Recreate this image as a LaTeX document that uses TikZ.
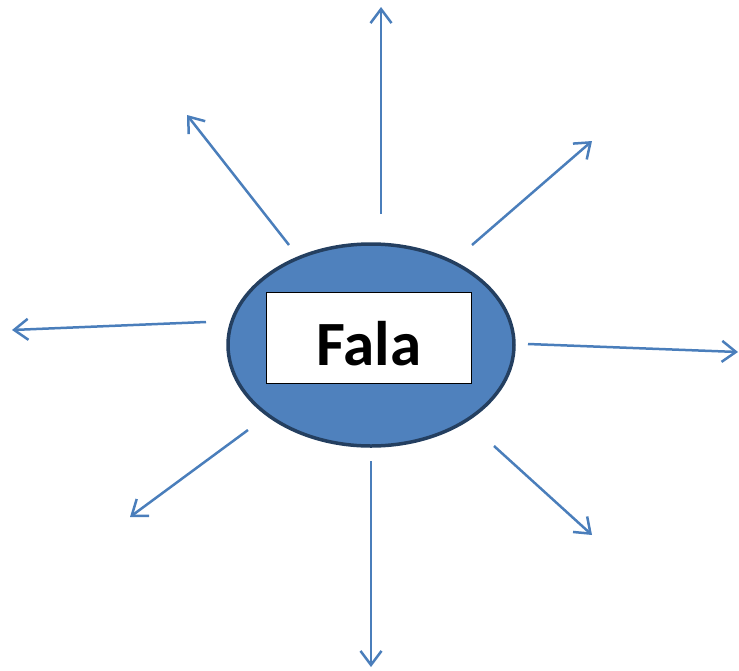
\documentclass[tikz,border=0pt]{standalone}
\usepackage{fontspec}
\setmainfont{Carlito}
\usetikzlibrary{shapes.geometric,arrows.meta}
\definecolor{ovalblue}{HTML}{4F81BD}
\definecolor{ovaledge}{HTML}{243F60}
\definecolor{rayblue}{HTML}{4A7EBB}
\tikzset{
  ray/.style={rayblue, line width=2.5pt, -{Straight Barb[length=14pt, width=21pt]}},
}

\begin{document}
\begin{tikzpicture}[x=1pt, y=-1pt]
    \useasboundingbox (0,0) rectangle (739,670);
    \node[ellipse, fill=ovalblue, draw=ovaledge, line width=3.5pt,
          minimum width=286pt, minimum height=202pt, inner sep=0pt] (blob) at (371,345) {};
    \node[rectangle, fill=white, draw=black, line width=1.8pt,
          minimum width=205pt, minimum height=91pt, inner sep=0pt] (box) at (369,338) {};
    \node[anchor=base, inner sep=0pt] (fala) at (369,365)
          {\fontsize{63}{63}\selectfont\bfseries Fala};
    % rays
    \coordinate (n0) at (381,214);   \coordinate (n1) at (381,7);
    \coordinate (ne0) at (472,245);  \coordinate (ne1) at (592,141);
    \coordinate (e0) at (528,344);   \coordinate (e1) at (738,352);
    \coordinate (se0) at (494,446);  \coordinate (se1) at (592,535);
    \coordinate (s0) at (371,461);   \coordinate (s1) at (371,667);
    \coordinate (sw0) at (248,430);  \coordinate (sw1) at (130,517);
    \coordinate (w0) at (206,322);   \coordinate (w1) at (12,330);
    \coordinate (nw0) at (289,245);  \coordinate (nw1) at (187,115);
    \foreach \r in {n,ne,e,se,s,sw,w,nw}
        \draw[ray] (\r0) -- (\r1);
\end{tikzpicture}
\end{document}
